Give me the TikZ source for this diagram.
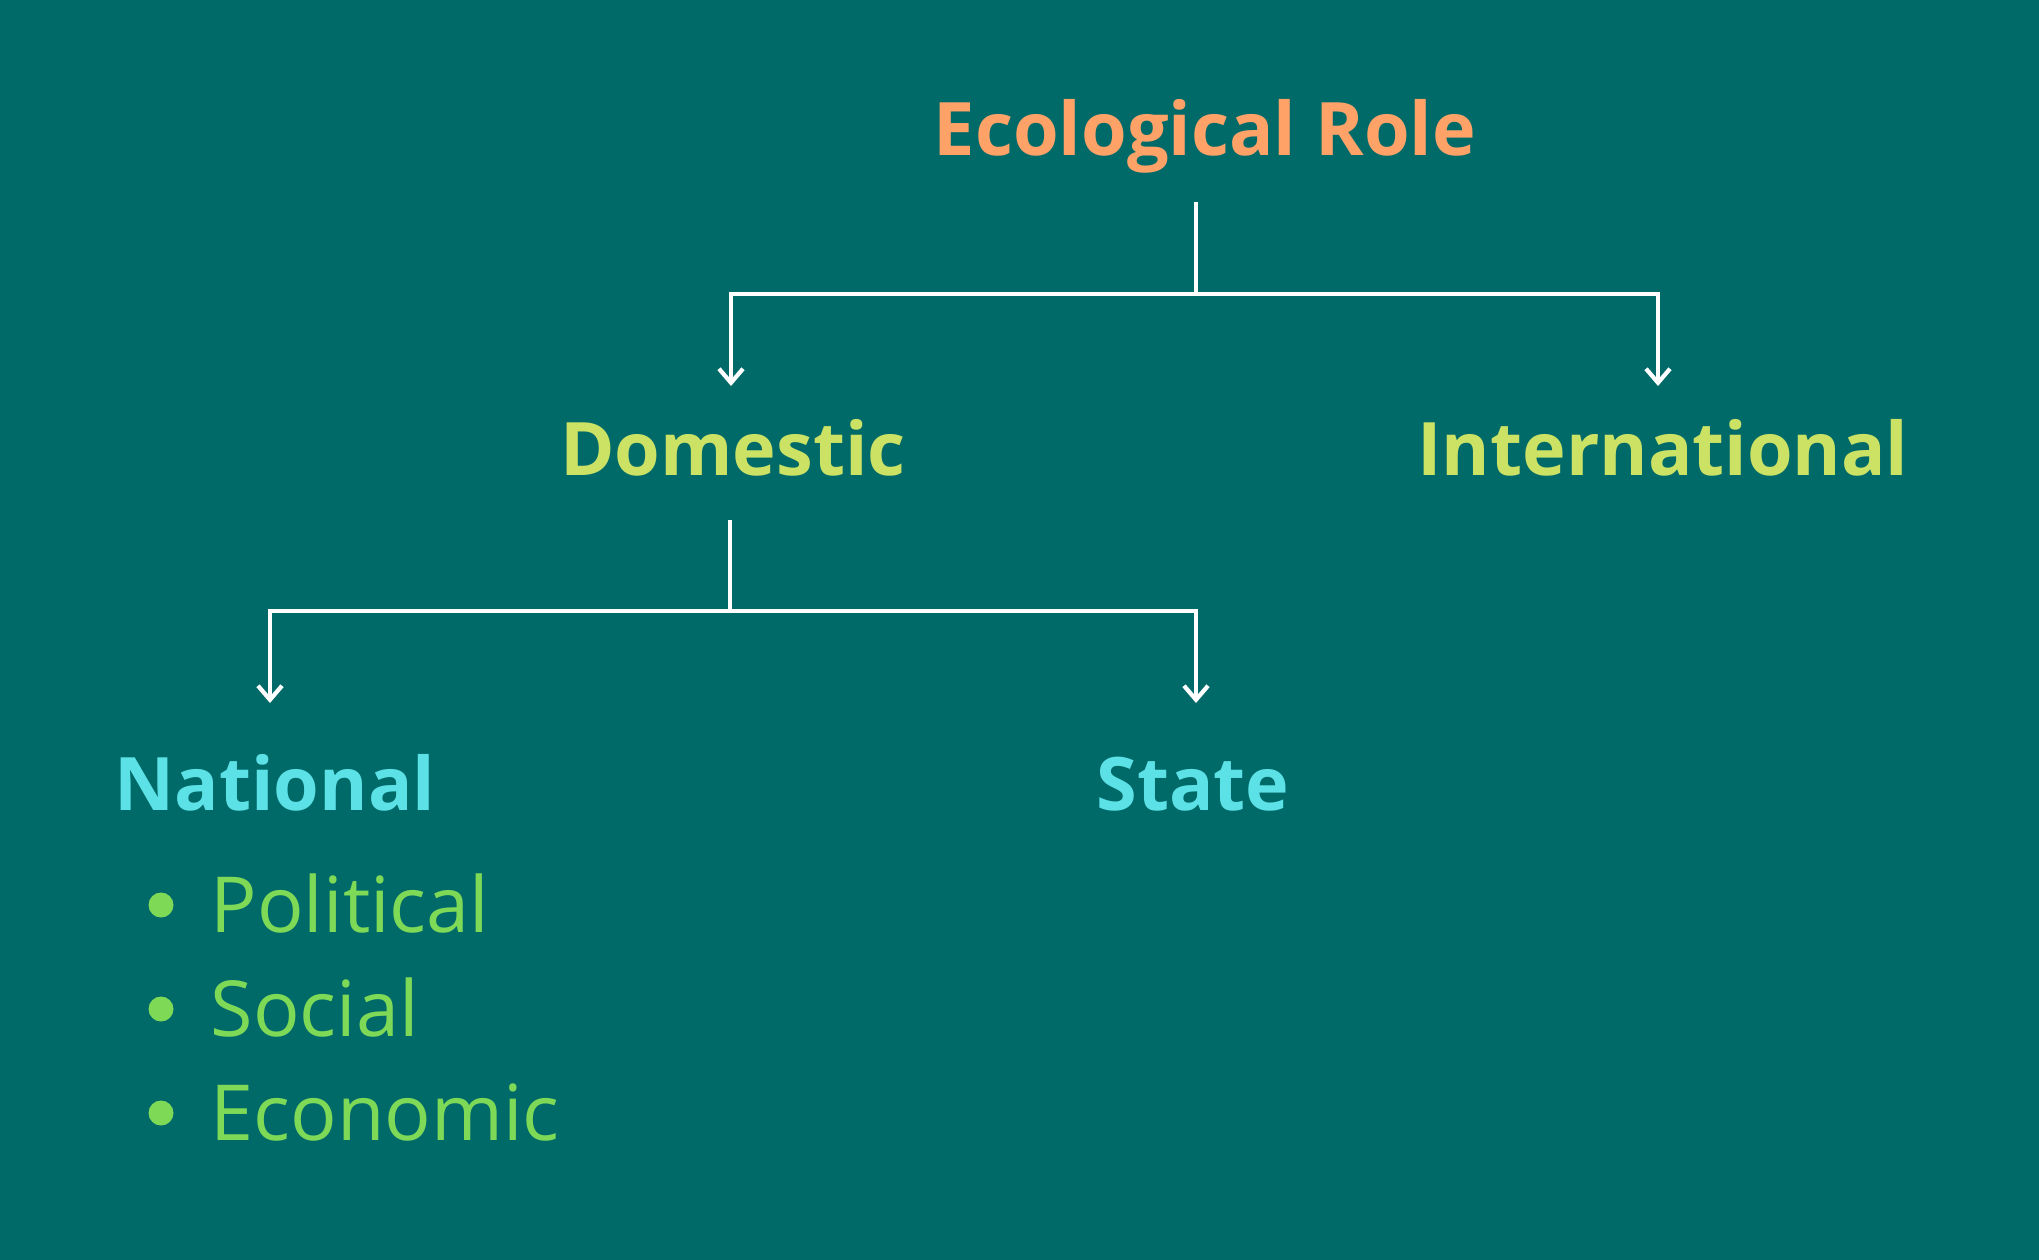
\documentclass[tikz,border=0pt]{standalone}
\usepackage{fontspec}
\setmainfont{Open Sans}
\usepackage{tikz}
\usetikzlibrary{arrows.meta,positioning,calc}
\definecolor{BgTeal}{RGB}{0,106,105}
\definecolor{TitleOrange}{RGB}{255,162,104}
\definecolor{LevelLime}{RGB}{203,226,101}
\definecolor{LevelCyan}{RGB}{92,225,230}
\definecolor{ItemGreen}{RGB}{126,217,87}

\begin{document}
\begin{tikzpicture}[
    heading/.style={anchor=base, font=\fontsize{21}{25}\selectfont\bfseries, inner sep=0pt},
    itemtext/.style={anchor=base west, font=\fontsize{22}{26}\selectfont, text=ItemGreen, inner sep=0pt},
    link/.style={white, line width=1.25pt},
    linkarrow/.style={link, -{Straight Barb[length=1.4mm, width=2.4mm, line width=1.2pt]}}
  ]
        \useasboundingbox (0,0) rectangle (20.39,-12.59);
        \fill[BgTeal] (-0.05,0.05) rectangle (20.44,-12.64);
        % headings
        \node[heading, text=TitleOrange] (eco) at (12.05,-1.56) {Ecological Role};
        \node[heading, text=LevelLime] (dom) at (7.33,-4.75) {Domestic};
        \node[heading, text=LevelLime] (intl) at (16.63,-4.75) {International};
        \node[heading, text=LevelCyan] (nat) at (2.75,-8.10) {National};
        \node[heading, text=LevelCyan] (state) at (11.93,-8.10) {State};
        % bullet list under National
        \foreach \name/\txt [count=\i] in {pol/Political, soc/Social, econ/Economic} {
          \fill[ItemGreen] (1.61,{-9.05-(\i-1)*1.04}) circle (0.125);
          \node[itemtext] (\name) at (2.10,{-9.32-(\i-1)*1.04}) {\txt};
        }
        % connectors
        \coordinate (ecoStem) at (11.96,-2.02);
        \coordinate (ecoFork) at (11.96,-2.94);
        \coordinate (domTip) at (7.31,-3.86);
        \coordinate (intlTip) at (16.58,-3.86);
        \draw[link] (ecoStem) -- (ecoFork);
        \draw[linkarrow] (ecoFork) -| (domTip);
        \draw[linkarrow] (ecoFork) -| (intlTip);
        \coordinate (domStem) at (7.30,-5.20);
        \coordinate (domFork) at (7.30,-6.11);
        \coordinate (natTip) at (2.70,-7.03);
        \coordinate (stateTip) at (11.96,-7.03);
        \draw[link] (domStem) -- (domFork);
        \draw[linkarrow] (domFork) -| (natTip);
        \draw[linkarrow] (domFork) -| (stateTip);
      \end{tikzpicture}
\end{document}
